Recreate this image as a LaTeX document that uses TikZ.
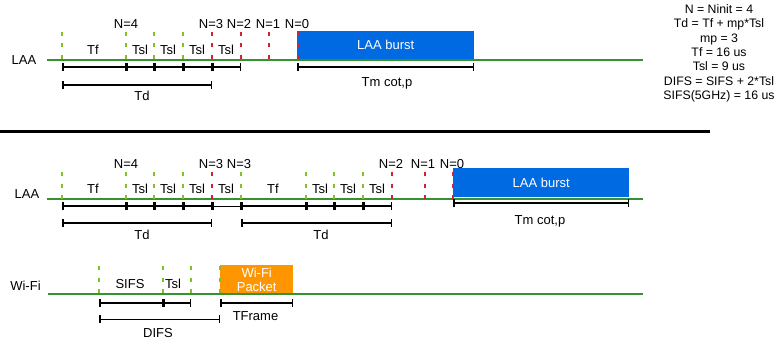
\documentclass[tikz,border=0pt]{standalone}
\usepackage{fontspec}
\setmainfont{Liberation Sans}
\usetikzlibrary{arrows.meta}

\definecolor{axisgreen}{RGB}{52,145,52}
\definecolor{slotgreen}{RGB}{130,192,35}
\definecolor{slotred}{RGB}{208,36,48}
\definecolor{burstblue}{RGB}{0,106,226}
\definecolor{wifiorange}{RGB}{255,150,0}

\begin{document}
\begin{tikzpicture}[x=1pt,y=-1pt,
  every node/.style={font=\fontsize{13}{15}\selectfont, inner sep=0pt, anchor=base},
  axis/.style={line width=2pt, axisgreen},
  gslot/.style={line width=2.4pt, slotgreen, dash pattern=on 4pt off 7.5pt},
  rslot/.style={line width=2.4pt, slotred, dash pattern=on 4pt off 7.5pt},
  span/.style={line width=1.5pt, black, {Bar[width=8pt,line width=1.5pt]}-{Bar[width=8pt,line width=1.5pt]}},
  burst/.style={fill=burstblue, text=white, anchor=north west, minimum height=28pt},
  packet/.style={fill=wifiorange, text=white, anchor=north west, align=center,
                 font=\fontsize{13}{14}\selectfont},
  note/.style={align=center, anchor=north, font=\fontsize{12.3}{14.4}\selectfont}
]
\useasboundingbox (0,0) rectangle (779,345);

% ---------------- upper LAA timeline ----------------
\node[burst, minimum width=177pt] (burstA) at (297,31) {LAA burst};
\draw[axis] (47,60) -- (643,60);
\node (laaA) at (24,64) {LAA};
\foreach \x in {62,126,154,183} \draw[gslot] (\x,32) -- (\x,59);
\foreach \x in {212,241,269,298} \draw[rslot] (\x,32) -- (\x,59);

\foreach \n/\x in {4/126,3/211,2/239,1/268,0/297} \node (nA\n) at (\x,29) {N=\n};
\node (tfA) at (93,55) {Tf};
\foreach \i/\x in {1/140,2/168,3/197,4/226} \node (tslA\i) at (\x,55) {Tsl};

\foreach \x in {62,126,154,183,212,241} \coordinate (sa\x) at (\x,67);
\draw[span] (sa62) -- (sa126);
\draw[span] (sa126) -- (sa154);
\draw[span] (sa154) -- (sa183);
\draw[span] (sa183) -- (sa212);
\draw[span] (sa212) -- (sa241);
\coordinate (tdA1) at (62,85);
\coordinate (tdA2) at (212,85);
\draw[span] (tdA1) -- (tdA2);
\node (tdlA) at (142,100.5) {Td};
\coordinate (tmA1) at (297,67);
\coordinate (tmA2) at (474,67);
\draw[span] (tmA1) -- (tmA2);
\node (tmlA) at (387,86) {Tm cot,p};

% ---------------- parameters ----------------
\node[note] (params) at (719,4.2) {N = Ninit = 4\\
  Td = Tf + mp*Tsl\\
  mp = 3\\
  Tf = 16 us\\
  Tsl = 9 us\\
  DIFS = SIFS + 2*Tsl\\
  SIFS(5GHz) = 16 us};

% ---------------- separator ----------------
\draw[line width=3pt] (0,131) -- (710,131);

% ---------------- lower LAA timeline ----------------
\node[burst, minimum width=176pt, minimum height=29pt] (burstB) at (453,168) {LAA burst};
\draw[axis] (47,199) -- (643,199);
\node (laaB) at (27,198) {LAA};
\foreach \x in {62,126,154,183,241,306,334,363} \draw[gslot] (\x,172) -- (\x,199);
\foreach \x in {212,392,425,453} \draw[rslot] (\x,172) -- (\x,199);

\foreach \n/\t/\x in {a/4/126,b/3/211,c/3/239,d/2/391,e/1/423,f/0/452} \node (nB\n) at (\x,168) {N=\t};
\node (tfB1) at (93,193) {Tf};
\node (tfB2) at (273,193) {Tf};
\foreach \i/\x in {1/140,2/168,3/197,4/226,5/320,6/348,7/377} \node (tslB\i) at (\x,193) {Tsl};

\foreach \x in {62,126,154,183,212,241,306,334,363,392} \coordinate (sb\x) at (\x,206);
\draw[span] (sb62) -- (sb126);
\draw[span] (sb126) -- (sb154);
\draw[span] (sb154) -- (sb183);
\draw[span] (sb183) -- (sb212);
\draw[span, line width=0.9pt] (sb212) -- (sb241);
\draw[span] (sb241) -- (sb306);
\draw[span] (sb306) -- (sb334);
\draw[span] (sb334) -- (sb363);
\draw[span] (sb363) -- (sb392);
\coordinate (tdB1) at (62,223);
\coordinate (tdB2) at (212,223);
\coordinate (tdB3) at (241,223);
\coordinate (tdB4) at (392,223);
\draw[span] (tdB1) -- (tdB2);
\draw[span] (tdB3) -- (tdB4);
\node (tdlB1) at (142,239) {Td};
\node (tdlB2) at (321,239) {Td};
\coordinate (tmB1) at (453,203);
\coordinate (tmB2) at (629,203);
\draw[span] (tmB1) -- (tmB2);
\node (tmlB) at (540,224) {Tm cot,p};

% ---------------- Wi-Fi timeline ----------------
\node[packet, minimum width=73pt, minimum height=29pt] (pkt) at (220,265) {Wi-Fi\\Packet};
\draw[axis] (48,294) -- (643,294);
\node (wifi) at (25.5,290) {Wi-Fi};
\foreach \x in {99,163,191,220} \draw[gslot] (\x,266) -- (\x,294);
\node (sifs) at (130,288) {SIFS};
\node (tslC) at (173,288) {Tsl};

\foreach \x in {99,163,191,220,293} \coordinate (sc\x) at (\x,303);
\draw[span] (sc99) -- (sc163);
\draw[span] (sc163) -- (sc191);
\draw[span] (sc220) -- (sc293);
\node (tframe) at (255.5,320.7) {TFrame};
\coordinate (difs1) at (99,319.3);
\coordinate (difs2) at (220,319.3);
\draw[span] (difs1) -- (difs2);
\node (difsl) at (158,337.3) {DIFS};
\end{tikzpicture}
\end{document}
